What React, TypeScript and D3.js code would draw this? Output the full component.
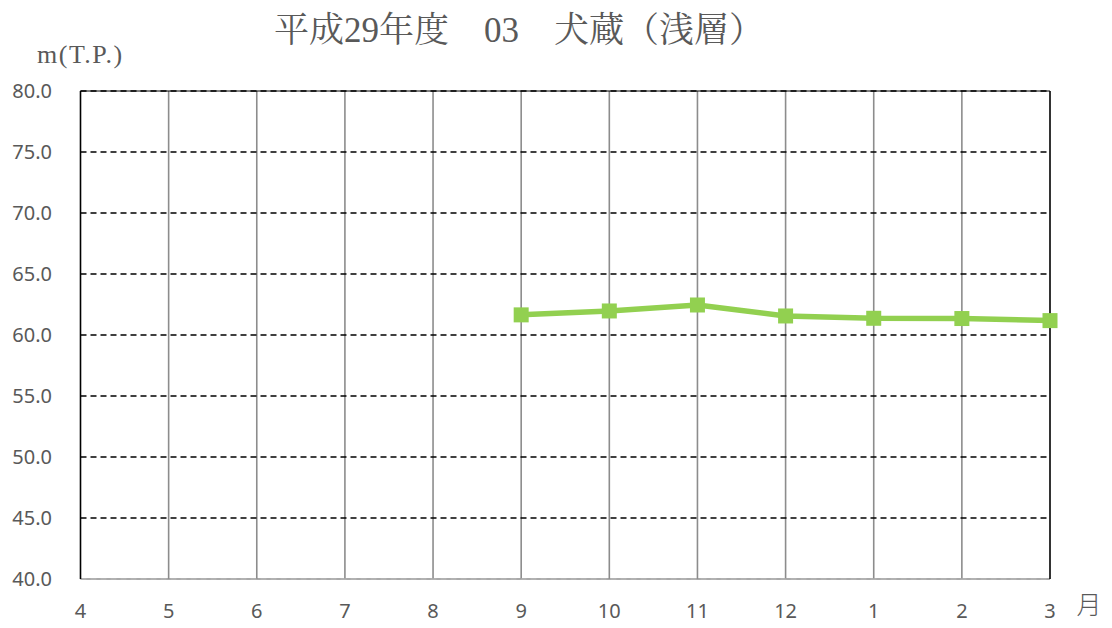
import React from "react";
import * as d3 from "d3";

const months = ["4", "5", "6", "7", "8", "9", "10", "11", "12", "1", "2", "3"];
const dataMonths = ["9", "10", "11", "12", "1", "2", "3"];
const dataValues = [61.65, 61.97, 62.46, 61.56, 61.37, 61.35, 61.18];
const yTicks = [40, 45, 50, 55, 60, 65, 70, 75, 80];
const titleText = "平成29年度　03　犬蔵（浅層）";
const unitText = "m(T.P.)";
const monthUnit = "月";

export default function App() {
  const W = 1112, H = 628;
  const left = 80.5, right = 1050, top = 91, bottom = 579;
  const x = d3.scalePoint<string>().domain(months).range([left, right]);
  const y = d3.scaleLinear().domain([40, 80]).range([bottom, top]);
  const line = d3
    .line<number>()
    .x((_, i) => x(dataMonths[i]) as number)
    .y((d) => y(d));
  const tickFont = "'Noto Sans', 'Open Sans', 'DejaVu Sans', sans-serif";
  return (
    <svg width={W} height={H} style={{ position: "absolute", left: 0, top: 0, background: "#fff" }}>
      <rect width={W} height={H} fill="#fff" />
      {months.map((m, i) =>
        i === 0 || i === months.length - 1 ? null : (
          <line key={"v" + m} x1={x(m)} x2={x(m)} y1={top} y2={bottom} stroke="#8c8c8c" strokeWidth={1.6} />
        )
      )}
      {yTicks.map((t) =>
        t === 40 ? null : (
          <line key={"h" + t} x1={left} x2={right} y1={y(t)} y2={y(t)} stroke="#000" strokeWidth={1.6} strokeDasharray="6,4" />
        )
      )}
      <line x1={left} x2={right} y1={top} y2={top} stroke="#000" strokeWidth={1} />
      <line x1={left} x2={right} y1={bottom} y2={bottom} stroke="#8c8c8c" strokeWidth={1.6} />
      <line x1={left} x2={right} y1={bottom} y2={bottom} stroke="#bbb" strokeWidth={1} strokeDasharray="6,4" />
      <line x1={left} x2={left} y1={top} y2={bottom} stroke="#000" strokeWidth={1.6} />
      <line x1={right} x2={right} y1={top} y2={bottom} stroke="#000" strokeWidth={1.6} />
      {yTicks.map((t) => (
        <text key={"yl" + t} x={52} y={y(t) + 7} textAnchor="end" fontSize={20} fill="#595959" fontFamily={tickFont}>
          {t.toFixed(1)}
        </text>
      ))}
      {months.map((m) => (
        <text key={"xl" + m} x={x(m)} y={618} textAnchor="middle" fontSize={20} fill="#595959" fontFamily={tickFont}>
          {m}
        </text>
      ))}
      <text x={1089} y={614} textAnchor="middle" fontSize={25} fill="#595959" fontFamily="'Noto Sans CJK JP', sans-serif" fontWeight={300}>
        {monthUnit}
      </text>
      <path d={line(dataValues) || ""} fill="none" stroke="#92D050" strokeWidth={5.5} strokeLinejoin="round" />
      {dataValues.map((v, i) => (
        <rect key={"p" + i} x={(x(dataMonths[i]) as number) - 7.5} y={y(v) - 7.5} width={15} height={15} fill="#92D050" />
      ))}
      <text x={519} y={42} textAnchor="middle" fontSize={35} fill="#595959" fontFamily="'Liberation Serif', 'Noto Serif CJK JP', 'Noto Sans CJK JP', serif">
        {titleText}
      </text>
      <text x={37} y={63} fontSize={26} letterSpacing={1.5} fill="#595959" fontFamily="'Liberation Serif', 'DejaVu Serif', serif">
        {unitText}
      </text>
    </svg>
  );
}
